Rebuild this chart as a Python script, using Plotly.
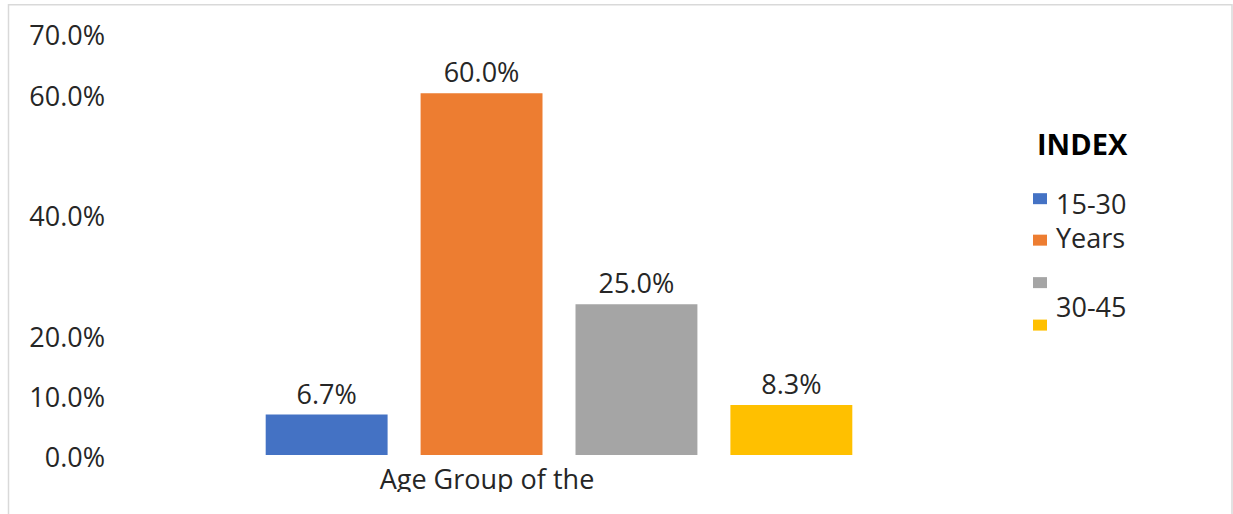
import plotly.graph_objects as go

category = ["Age Group of the"]
series_names = ["15-30", "Years", "", "30-45"]
series_values = [0.067, 0.60, 0.25, 0.083]
colors = ["#4472C4", "#ED7D31", "#A5A5A5", "#FFC000"]
tick_vals = [0.0, 0.10, 0.20, 0.40, 0.60, 0.70]
tick_text = ["0.0%", "10.0%", "20.0%", "40.0%", "60.0%", "70.0%"]
legend_title = "INDEX"

FONT = "Open Sans"
TXT = "#262626"
FS = 27

fig = go.Figure()
for i, (name, val, col) in enumerate(zip(series_names, series_values, colors)):
    fig.add_trace(go.Bar(
        x=category, y=[val], name=name if name else " ",
        marker=dict(color=col, line=dict(width=0)),
        texttemplate="%{y:.1%}", textposition="outside",
        textfont=dict(family=FONT, size=FS, color=TXT),
        cliponaxis=False, showlegend=False,
    ))

# plot-area geometry (pixels)
L, R, T, B = 110, 225, 32.7, 59
W = 1233 - L - R
H = 514 - T - B
base_y = 514 - B


def px(x):
    return (x - L) / W


def py(y):
    return (base_y - y) / H


shapes = [
    # outer chart border
    dict(type="rect", xref="paper", yref="paper",
         x0=px(8.5), x1=px(1232), y0=py(540), y1=py(4.5),
         line=dict(color="#D9D9D9", width=1.5), fillcolor="rgba(0,0,0,0)", layer="below"),
    # clip of the category label (cut off as in the original)
    dict(type="rect", xref="paper", yref="paper",
         x0=px(300), x1=px(720), y0=py(530), y1=py(492),
         line=dict(width=0), fillcolor="white", layer="above"),
]

# legend drawn manually
marker_y = [198.5, 240, 282.5, 325]
for col, my in zip(colors, marker_y):
    shapes.append(dict(type="rect", xref="paper", yref="paper",
                       x0=px(1033), x1=px(1047), y0=py(my + 5.5), y1=py(my - 5.5),
                       line=dict(width=0), fillcolor=col))

annotations = [
    dict(text=f"<b>{legend_title}</b>", xref="paper", yref="paper", x=px(1035), y=py(143),
         xanchor="left", yanchor="middle", showarrow=False,
         font=dict(family=FONT, size=29, color="#000000")),
]
label_pos = [(series_names[0], 203), (series_names[1], 237), (series_names[3], 306)]
for txt, ty in label_pos:
    annotations.append(dict(text=txt, xref="paper", yref="paper", x=px(1054), y=py(ty),
                            xanchor="left", yanchor="middle", showarrow=False,
                            font=dict(family=FONT, size=FS, color=TXT)))

fig.update_layout(
    width=1233, height=514,
    margin=dict(l=L, r=R, t=T, b=B, pad=0),
    paper_bgcolor="white", plot_bgcolor="white",
    barmode="group", bargap=0.31, bargroupgap=0.213,
    font=dict(family=FONT, size=FS, color=TXT),
    showlegend=False,
    xaxis=dict(showgrid=False, showline=False, zeroline=False, ticks="",
               tickfont=dict(family=FONT, size=FS, color=TXT),
               ticklabelstandoff=6, ticklabelshift=-72),
    yaxis=dict(range=[0, 0.70], tickvals=tick_vals, ticktext=tick_text,
               showgrid=False, showline=False, zeroline=False, ticks="",
               tickfont=dict(family=FONT, size=FS, color=TXT),
               ticklabelshift=3, ticklabelstandoff=4),
    shapes=shapes,
    annotations=annotations,
)

fig.write_html("out.html", config={"displayModeBar": False},
               post_script="document.body.style.margin='0px';")
